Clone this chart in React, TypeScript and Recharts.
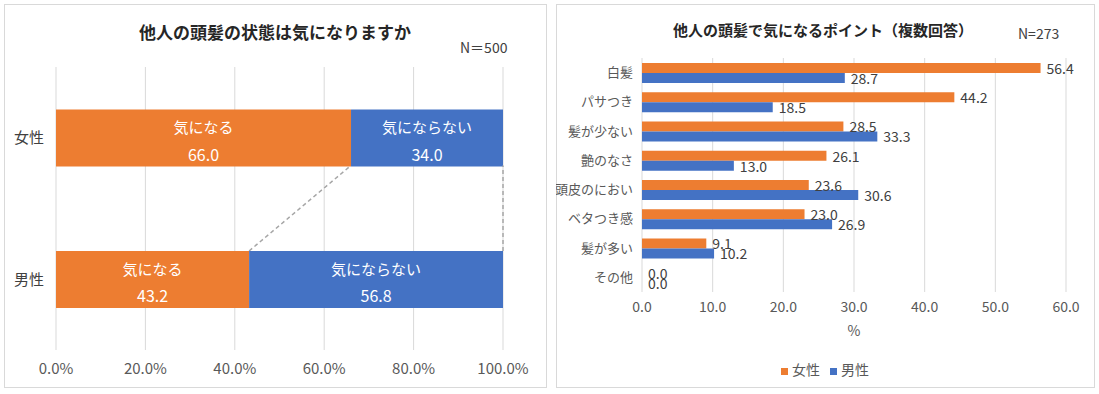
import React from "react";
import {
  Bar,
  BarChart,
  CartesianGrid,
  LabelList,
  Legend,
  Rectangle,
  XAxis,
  YAxis,
} from "recharts";

// left chart: 気になる / 気にならない by gender (N=500)
const SEGMENTS = ["気になる", "気にならない"];
const GENDERS = ["女性", "男性"];
const CONCERNED = [66.0, 43.2];
const NOT_CONCERNED = [34.0, 56.8];
const SHARE_TICKS = [0, 20, 40, 60, 80, 100];

// right chart: points of concern, multiple answers (N=273)
const POINTS = ["白髪", "パサつき", "髪が少ない", "艶のなさ", "頭皮のにおい", "ベタつき感", "髪が多い", "その他"];
const FEMALE = [56.4, 44.2, 28.5, 26.1, 23.6, 23.0, 9.1, 0.0];
const MALE = [28.7, 18.5, 33.3, 13.0, 30.6, 26.9, 10.2, 0.0];
const POINT_TICKS = [0, 10, 20, 30, 40, 50, 60];

const ORANGE = "#ED7D31";
const BLUE = "#4472C4";
const GRID = "#d9d9d9";
const TEXT = "#595959";
const FONT = '"Noto Sans CJK JP", "Noto Sans", sans-serif';

const GAP = 0.3; // barCategoryGap of the left chart, as share of band

const shareData = GENDERS.map((g, i) => ({
  gender: g,
  concerned: CONCERNED[i],
  notConcerned: NOT_CONCERNED[i],
}));

const pointData = POINTS.map((p, i) => ({ point: p, female: FEMALE[i], male: MALE[i] }));

function box(p: any) {
  const vb = p.viewBox || {};
  return {
    x: (p.x ?? vb.x) as number,
    y: (p.y ?? vb.y) as number,
    w: (p.width ?? vb.width) as number,
    h: (p.height ?? vb.height) as number,
  };
}

function inBarLabel(name: string) {
  return (p: any) => {
    const { x, y, w, h } = box(p);
    const cx = x + w / 2;
    const cy = y + h / 2;
    return (
      <g>
        <text x={cx} y={cy - 11} fill="#fff" fontSize={15} textAnchor="middle" dominantBaseline="central">
          {name}
        </text>
        <text x={cx} y={cy + 16} fill="#fff" fontSize={16} textAnchor="middle" dominantBaseline="central">
          {Number(p.value).toFixed(1)}
        </text>
      </g>
    );
  };
}

// stacked segment of the 男性 row draws the dashed series line up to the 女性 row
function segmentWithLink(startKey: "concerned" | "notConcerned") {
  return (p: any) => {
    const rect = <Rectangle x={p.x} y={p.y} width={p.width} height={p.height} fill={p.fill} />;
    if (p.index !== 1) return rect;
    const start = startKey === "concerned" ? 0 : CONCERNED[1];
    const len = startKey === "concerned" ? CONCERNED[1] : NOT_CONCERNED[1];
    const k = p.width / len; // px per unit from the bar itself
    const x0 = p.x - start * k;
    const femaleEnd = startKey === "concerned" ? CONCERNED[0] : CONCERNED[0] + NOT_CONCERNED[0];
    const gapPx = (p.height * 2 * GAP) / (1 - 2 * GAP);
    return (
      <g>
        {rect}
        <line
          x1={p.x + p.width}
          y1={p.y}
          x2={x0 + femaleEnd * k}
          y2={p.y - gapPx}
          stroke="#a6a6a6"
          strokeWidth={1.5}
          strokeDasharray="4 3"
        />
      </g>
    );
  };
}

function valueLabel(p: any) {
  const { x, y, w, h } = box(p);
  return (
    <text x={x + w + 6} y={y + h / 2} fill="#404040" fontSize={14} dominantBaseline="central">
      {Number(p.value).toFixed(1)}
    </text>
  );
}

function Panel({ left, width }: { left: number; width: number }) {
  return (
    <div
      style={{
        position: "absolute",
        left,
        top: 4,
        width,
        height: 384,
        border: `1px solid ${GRID}`,
        boxSizing: "border-box",
      }}
    />
  );
}

function ShareChart() {
  return (
    <BarChart
      width={542}
      height={384}
      layout="vertical"
      data={shareData}
      margin={{ top: 63, right: 43, bottom: 8, left: 0 }}
      barCategoryGap={`${GAP * 100}%`}
    >
      <CartesianGrid horizontal={false} stroke={GRID} />
      <XAxis
        type="number"
        domain={[0, 100]}
        ticks={SHARE_TICKS}
        tickFormatter={(v) => `${Number(v).toFixed(1)}%`}
        axisLine={false}
        tickLine={false}
        tickSize={0}
        tickMargin={13}
        height={30}
        tick={{ fontSize: 15, fill: TEXT }}
      />
      <YAxis
        type="category"
        dataKey="gender"
        axisLine={false}
        tickLine={false}
        tickSize={0}
        tickMargin={12}
        width={52}
        tick={{ fontSize: 15, fill: "#404040" }}
      />
      <Bar
        dataKey="concerned"
        stackId="a"
        fill={ORANGE}
        isAnimationActive={false}
        shape={segmentWithLink("concerned")}
      >
        <LabelList dataKey="concerned" content={inBarLabel(SEGMENTS[0])} />
      </Bar>
      <Bar
        dataKey="notConcerned"
        stackId="a"
        fill={BLUE}
        isAnimationActive={false}
        shape={segmentWithLink("notConcerned")}
      >
        <LabelList dataKey="notConcerned" content={inBarLabel(SEGMENTS[1])} />
      </Bar>
    </BarChart>
  );
}

function PointChart() {
  return (
    <BarChart
      width={538}
      height={384}
      layout="vertical"
      data={pointData}
      margin={{ top: 54, right: 28, bottom: 50, left: 0 }}
      barCategoryGap="17%"
      barGap={0}
    >
      <CartesianGrid horizontal={false} stroke={GRID} />
      <XAxis
        type="number"
        domain={[0, 60]}
        ticks={POINT_TICKS}
        tickFormatter={(v) => Number(v).toFixed(1)}
        axisLine={false}
        tickLine={false}
        tickSize={0}
        tickMargin={10}
        height={46}
        tick={{ fontSize: 14, fill: TEXT }}
        label={{ value: "%", position: "insideBottom", offset: 2, fill: TEXT, fontSize: 14 }}
      />
      <YAxis
        type="category"
        dataKey="point"
        interval={0}
        axisLine={false}
        tickLine={false}
        tickSize={0}
        tickMargin={9}
        width={86}
        tick={{ fontSize: 13, fill: TEXT }}
      />
      <Legend
        verticalAlign="middle"
        align="center"
        iconType="square"
        iconSize={7}
        wrapperStyle={{ top: 355, left: 5, width: 538, fontSize: 14 }}
        formatter={(v) => <span style={{ color: TEXT }}>{v}</span>}
      />
      <Bar dataKey="female" name="女性" fill={ORANGE} minPointSize={0.01} isAnimationActive={false}>
        <LabelList dataKey="female" content={valueLabel} />
      </Bar>
      <Bar dataKey="male" name="男性" fill={BLUE} minPointSize={0.01} isAnimationActive={false}>
        <LabelList dataKey="male" content={valueLabel} />
      </Bar>
    </BarChart>
  );
}

export default function App() {
  return (
    <div
      style={{
        position: "absolute",
        left: 0,
        top: 0,
        width: 1099,
        height: 394,
        background: "#fff",
        fontFamily: FONT,
        color: "#262626",
      }}
    >
      <Panel left={4} width={543} />
      <Panel left={556} width={539} />

      <div
        style={{
          position: "absolute",
          left: 4,
          top: 20,
          width: 542,
          textAlign: "center",
          fontSize: 17,
          fontWeight: "bold",
          lineHeight: "24px",
        }}
      >
        他人の頭髪の状態は気になりますか
      </div>
      <div style={{ position: "absolute", left: 460, top: 38, fontSize: 14, lineHeight: "18px", color: "#404040" }}>
        N＝500
      </div>

      <div
        style={{
          position: "absolute",
          left: 556,
          top: 19,
          width: 534,
          textAlign: "center",
          fontSize: 15,
          fontWeight: "bold",
          lineHeight: "22px",
        }}
      >
        他人の頭髪で気になるポイント（複数回答）
      </div>
      <div style={{ position: "absolute", left: 1018, top: 24, fontSize: 14, lineHeight: "18px", color: "#404040" }}>
        N=273
      </div>

      <div style={{ position: "absolute", left: 4, top: 4 }}>
        <ShareChart />
      </div>
      <div style={{ position: "absolute", left: 556, top: 4 }}>
        <PointChart />
      </div>
    </div>
  );
}
